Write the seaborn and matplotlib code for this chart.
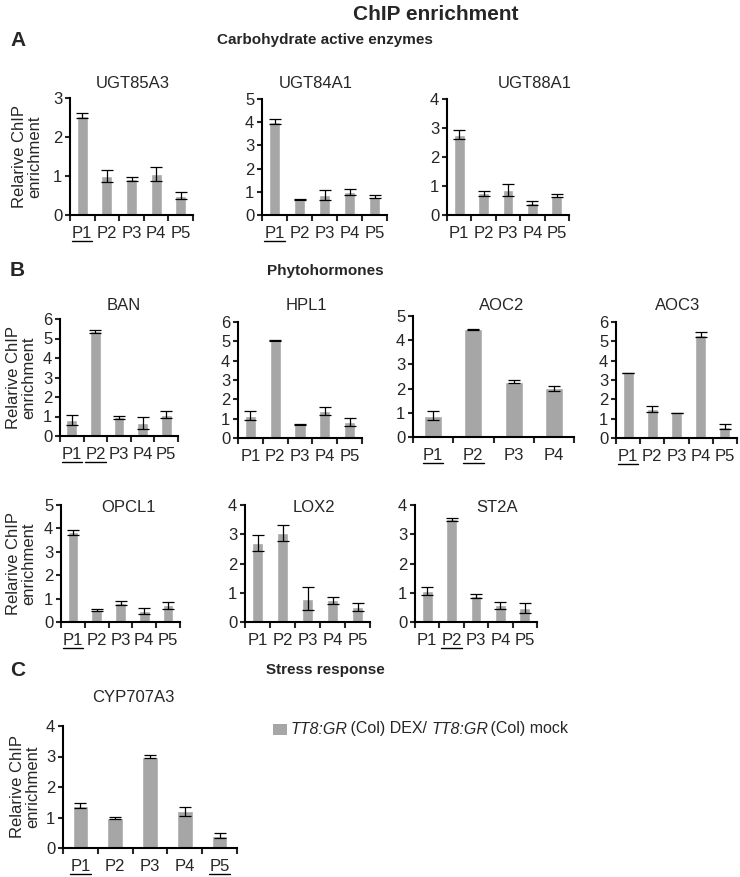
import matplotlib
matplotlib.use("Agg")
import matplotlib.pyplot as plt
import seaborn as sns
from matplotlib.lines import Line2D
from matplotlib.patches import Rectangle
from matplotlib.transforms import blended_transform_factory

sns.set_style("ticks")
plt.rcParams['font.family'] = ['Liberation Sans', 'DejaVu Sans']

BAR = "#a6a6a6"
W, H = 740, 877

# --- data ---
p5 = ["P1", "P2", "P3", "P4", "P5"]
p4 = ["P1", "P2", "P3", "P4"]

ugt85a3_mean = [2.55, 1.00, 0.93, 1.05, 0.50]
ugt85a3_err = [0.06, 0.15, 0.05, 0.18, 0.08]
ugt84a1_mean = [4.03, 0.65, 0.86, 0.98, 0.79]
ugt84a1_err = [0.12, 0.02, 0.20, 0.12, 0.07]
ugt88a1_mean = [2.77, 0.75, 0.86, 0.40, 0.66]
ugt88a1_err = [0.15, 0.08, 0.22, 0.07, 0.05]

ban_mean = [0.81, 5.36, 0.95, 0.67, 1.10]
ban_err = [0.25, 0.08, 0.07, 0.30, 0.18]
hpl1_mean = [1.16, 5.03, 0.69, 1.38, 0.83]
hpl1_err = [0.22, 0.02, 0.01, 0.20, 0.20]
aoc2_mean = [0.88, 4.45, 2.29, 2.02]
aoc2_err = [0.18, 0.01, 0.06, 0.10]
aoc3_mean = [3.36, 1.49, 1.28, 5.35, 0.59]
aoc3_err = [0.00, 0.15, 0.01, 0.12, 0.15]

opcl1_mean = [3.83, 0.50, 0.81, 0.46, 0.71]
opcl1_err = [0.10, 0.05, 0.08, 0.12, 0.15]
lox2_mean = [2.71, 3.05, 0.80, 0.74, 0.51]
lox2_err = [0.27, 0.27, 0.40, 0.11, 0.13]
st2a_mean = [1.05, 3.52, 0.89, 0.57, 0.49]
st2a_err = [0.13, 0.05, 0.07, 0.13, 0.17]

cyp707a3_mean = [1.38, 0.98, 3.00, 1.20, 0.40]
cyp707a3_err = [0.08, 0.04, 0.05, 0.15, 0.08]

# gene, labels, mean, err, ymax, underlined labels,
# axes box in pixels (left, top, right, bottom), title centre, ylabel x
panels = [
    ("UGT85A3", p5, ugt85a3_mean, ugt85a3_err, 3, [0], (70, 98, 193, 215), (133, 83), 42),
    ("UGT84A1", p5, ugt84a1_mean, ugt84a1_err, 5, [0], (262, 99, 387, 215), (316, 83), None),
    ("UGT88A1", p5, ugt88a1_mean, ugt88a1_err, 4, [], (447, 99, 569, 215), (535, 83), None),
    ("BAN", p5, ban_mean, ban_err, 6, [0, 1], (60, 319, 178, 436), (124, 305), 36),
    ("HPL1", p5, hpl1_mean, hpl1_err, 6, [], (238, 322, 362, 438), (306, 305), None),
    ("AOC2", p4, aoc2_mean, aoc2_err, 5, [0, 1], (413, 316, 574, 437), (502, 305), None),
    ("AOC3", p5, aoc3_mean, aoc3_err, 6, [0], (616, 322, 737, 438), (678, 305), None),
    ("OPCL1", p5, opcl1_mean, opcl1_err, 5, [0], (61, 505, 180, 622), (128, 507), 36),
    ("LOX2", p5, lox2_mean, lox2_err, 4, [], (245, 505, 370, 622), (314, 507), None),
    ("ST2A", p5, st2a_mean, st2a_err, 4, [1], (415, 505, 537, 622), (497, 507), None),
    ("CYP707A3", p5, cyp707a3_mean, cyp707a3_err, 4, [0, 4], (63, 726, 237, 848), (133, 697), 40),
]

fig = plt.figure(figsize=(W / 100, H / 100), dpi=100)


def px_rect(l, t, r, b):
    return [l / W, 1 - b / H, (r - l) / W, (b - t) / H]


axes_info = []
for name, labels, mean, err, ymax, under, box, tpos, ylab_x in panels:
    ax = fig.add_axes(px_rect(*box))
    sns.barplot(x=labels, y=mean, color=BAR, saturation=1, width=0.45,
                errorbar=None, ax=ax)
    ax.errorbar(range(len(labels)), mean, yerr=err, fmt="none",
                ecolor="black", elinewidth=0.9, capsize=4, capthick=0.9)
    n = len(labels)
    ax.set_xlim(-0.5, n - 0.5)
    ax.set_ylim(0, ymax)
    ax.set_yticks(range(ymax + 1))
    # category ticks sit between bars (Excel style)
    ax.set_xticks([i - 0.5 for i in range(n + 1)], minor=True)
    ax.tick_params(axis="x", which="major", length=0, pad=8, labelsize=12)
    ax.tick_params(axis="x", which="minor", length=4, width=1.5, direction="out")
    ax.tick_params(axis="y", length=3.5, width=1.5, labelsize=12, pad=2)
    for s in ("top", "right"):
        ax.spines[s].set_visible(False)
    for s in ("left", "bottom"):
        ax.spines[s].set_linewidth(1.5)
        ax.spines[s].set_color("black")
    fig.text(tpos[0] / W, 1 - tpos[1] / H, name, ha="center", va="center", fontsize=12)
    if ylab_x is not None:
        ax.set_ylabel("Relarive ChIP\nenrichment", fontsize=12, linespacing=1.0)
        trans = blended_transform_factory(fig.transFigure, ax.transAxes)
        ax.yaxis.set_label_coords(ylab_x / W, 0.5, transform=trans)
    else:
        ax.set_ylabel("")
    axes_info.append((ax, under))

# section headings
fig.text(436 / W, 1 - 14 / H, "ChIP enrichment", ha="center", va="center",
         fontsize=15, fontweight="bold")
for letter, heading, hy in [("A", "Carbohydrate active enzymes", 40),
                            ("B", "Phytohormones", 271),
                            ("C", "Stress response", 670)]:
    fig.text(10 / W, 1 - hy / H, letter, ha="left", va="center",
             fontsize=15, fontweight="bold")
    fig.text(325 / W, 1 - hy / H, heading, ha="center", va="center",
             fontsize=11, fontweight="bold")

# legend: grey swatch + label with italic genotype names
fig.add_artist(Rectangle((273 / W, 1 - 735 / H), 14 / W, 11 / H,
                         facecolor=BAR, edgecolor="none", transform=fig.transFigure))
legend_parts = [("TT8:GR", "italic"), (" (Col) DEX/ ", "normal"),
                ("TT8:GR", "italic"), (" (Col) mock", "normal")]
fig.canvas.draw()
renderer = fig.canvas.get_renderer()
inv = fig.transFigure.inverted()
x_px = 291
for txt, style in legend_parts:
    t = fig.text(x_px / W, 1 - 729 / H, txt, ha="left", va="center",
                 fontsize=11.5, fontstyle=style)
    x_px += t.get_window_extent(renderer).width
    if style == "italic":
        x_px -= 2

# underline the marked promoter fragments
for ax, under in axes_info:
    ticklabels = ax.get_xticklabels()
    for i in under:
        bb = ticklabels[i].get_window_extent(renderer)
        (x0, y0), (x1, _) = inv.transform([(bb.x0, bb.y0 + 0.5), (bb.x1, bb.y0 + 0.5)])
        fig.add_artist(Line2D([x0, x1], [y0, y0], color="black", lw=1.0,
                              transform=fig.transFigure))

fig.savefig("out.png", dpi=100)
